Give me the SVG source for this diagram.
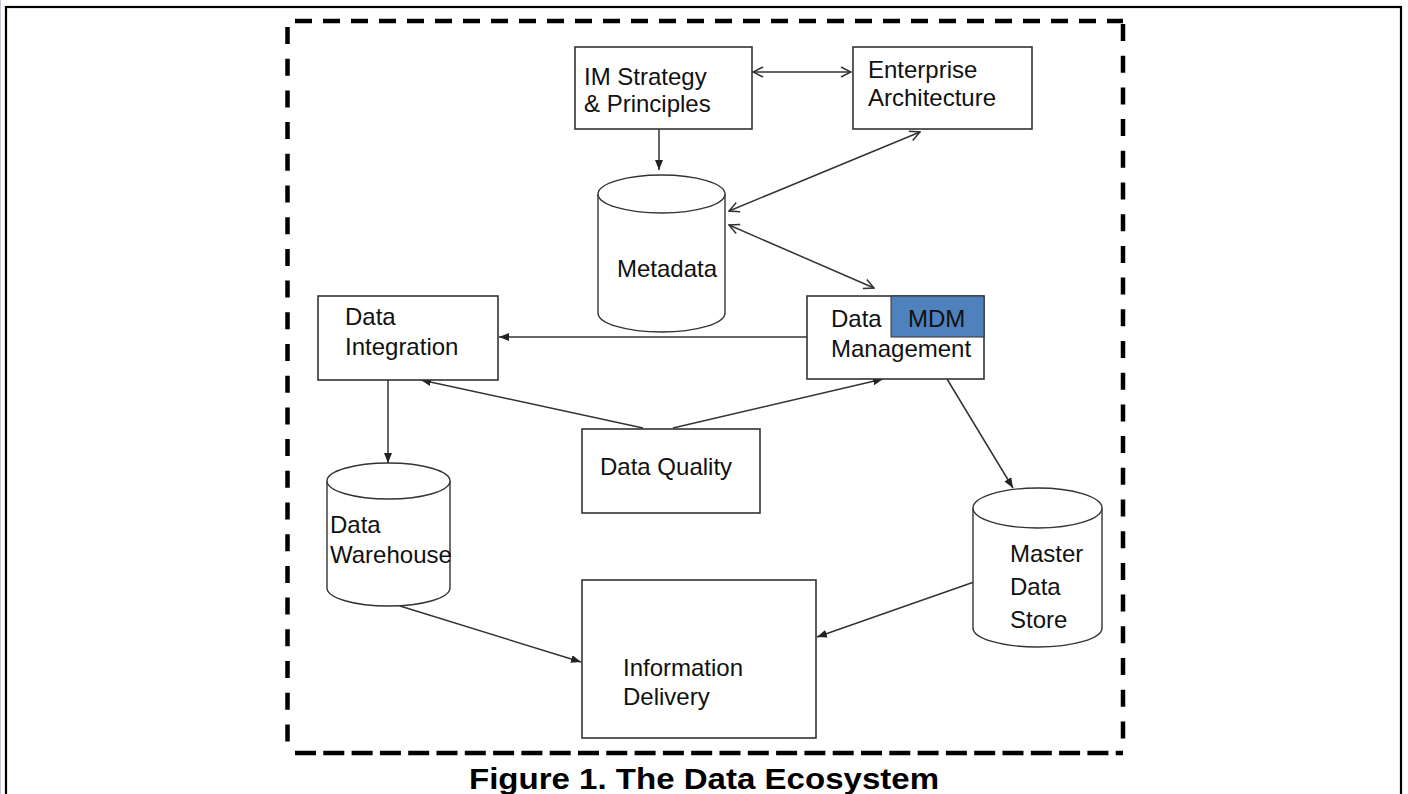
<svg xmlns="http://www.w3.org/2000/svg" width="1408" height="794" viewBox="0 0 1408 794">
<style>
text{font-family:"Liberation Sans",Arial,sans-serif;font-size:24px;fill:#111}
.box{fill:#fff;stroke:#333;stroke-width:1.6}
.cyl{fill:#fff;stroke:#333;stroke-width:1.4}
.con{fill:none;stroke:#333;stroke-width:1.5}
.dash{fill:none;stroke:#000;stroke-width:4.5}
.cap{font-weight:bold;font-size:30px;fill:#000}
</style>
<defs>
<marker id="fa" viewBox="0 0 10 10" refX="10" refY="5" markerWidth="10" markerHeight="10" markerUnits="userSpaceOnUse" orient="auto-start-reverse"><path d="M0,1 L10,5 L0,9 z" fill="#222"/></marker>
<marker id="oa" viewBox="0 0 12 12" refX="11" refY="6" markerWidth="12" markerHeight="12" markerUnits="userSpaceOnUse" orient="auto-start-reverse"><path d="M1,1 L11,6 L1,11" fill="none" stroke="#333" stroke-width="1.5"/></marker>
</defs>
<rect x="0" y="0" width="1408" height="794" fill="#fff"/>
<line x1="0.5" y1="0" x2="0.5" y2="794" stroke="#c8c8e8" stroke-width="1"/>
<rect x="6" y="7" width="1395" height="800" fill="none" stroke="#000" stroke-width="2.2"/>
<g id="frame">
<line class="dash" x1="295" y1="21" x2="1123" y2="21" stroke-dasharray="17 11"/>
<line class="dash" x1="287.5" y1="27" x2="287.5" y2="753" stroke-dasharray="17 14.7"/>
<line class="dash" x1="1123" y1="24" x2="1123" y2="753" stroke-dasharray="17 14.7"/>
<line class="dash" x1="295" y1="753" x2="1123" y2="753" stroke-dasharray="21 7.3"/>
</g>
<g id="connectors">
<line class="con" x1="753" y1="72" x2="851" y2="72" marker-start="url(#oa)" marker-end="url(#oa)"/>
<line class="con" x1="659" y1="129" x2="659" y2="170" marker-end="url(#fa)"/>
<line class="con" x1="920" y1="132" x2="729" y2="211" marker-start="url(#oa)" marker-end="url(#oa)"/>
<line class="con" x1="729" y1="225" x2="874" y2="288" marker-start="url(#oa)" marker-end="url(#oa)"/>
<line class="con" x1="807" y1="337" x2="499" y2="337" marker-end="url(#fa)"/>
<line class="con" x1="388" y1="380" x2="388" y2="463" marker-end="url(#fa)"/>
<line class="con" x1="643" y1="428" x2="421" y2="380" marker-end="url(#fa)"/>
<line class="con" x1="673" y1="428" x2="883" y2="379" marker-end="url(#fa)"/>
<line class="con" x1="947" y1="379" x2="1013" y2="488" marker-end="url(#fa)"/>
<line class="con" x1="400" y1="606" x2="581" y2="662" marker-end="url(#fa)"/>
<line class="con" x1="974" y1="582" x2="817" y2="637" marker-end="url(#fa)"/>
</g>
<g id="im-strategy">
<rect class="box" x="575" y="47" width="177" height="82"/>
<text x="584" y="85">IM Strategy</text>
<text x="584" y="112">&amp; Principles</text>
</g>
<g id="enterprise-architecture">
<rect class="box" x="853" y="47" width="179" height="82"/>
<text x="868" y="78">Enterprise</text>
<text x="868" y="106">Architecture</text>
</g>
<g id="metadata">
<path class="cyl" d="M598,194 A63.5,19 0 0 1 725,194 L725,313 A63.5,19 0 0 1 598,313 Z"/>
<path class="cyl" d="M598,194 A63.5,19 0 0 0 725,194"/>
<text x="617" y="277">Metadata</text>
</g>
<g id="data-integration">
<rect class="box" x="318" y="296" width="180" height="84"/>
<text x="345" y="325">Data</text>
<text x="345" y="355">Integration</text>
</g>
<g id="data-management">
<rect class="box" x="807" y="296" width="177" height="83"/>
<rect x="891" y="296" width="93" height="41" fill="#4f81bd" stroke="#333" stroke-width="1"/>
<text x="831" y="327">Data</text>
<text x="908" y="327">MDM</text>
<text x="831" y="357">Management</text>
</g>
<g id="data-quality">
<rect class="box" x="582" y="429" width="178" height="84"/>
<text x="600" y="475">Data Quality</text>
</g>
<g id="data-warehouse">
<path class="cyl" d="M327,481 A61.5,18 0 0 1 450,481 L450,588 A61.5,18 0 0 1 327,588 Z"/>
<path class="cyl" d="M327,481 A61.5,18 0 0 0 450,481"/>
<text x="330" y="533">Data</text>
<text x="330" y="563">Warehouse</text>
</g>
<g id="master-data-store">
<path class="cyl" d="M973,508 A64.5,20 0 0 1 1102,508 L1102,628 A64.5,19 0 0 1 973,628 Z"/>
<path class="cyl" d="M973,508 A64.5,20 0 0 0 1102,508"/>
<text x="1010" y="562">Master</text>
<text x="1010" y="595">Data</text>
<text x="1010" y="628">Store</text>
</g>
<g id="information-delivery">
<rect class="box" x="582" y="580" width="234" height="158"/>
<text x="623" y="676">Information</text>
<text x="623" y="705">Delivery</text>
</g>
<text class="cap" x="704" y="789" text-anchor="middle" textLength="470" lengthAdjust="spacingAndGlyphs">Figure 1. The Data Ecosystem</text>
</svg>
